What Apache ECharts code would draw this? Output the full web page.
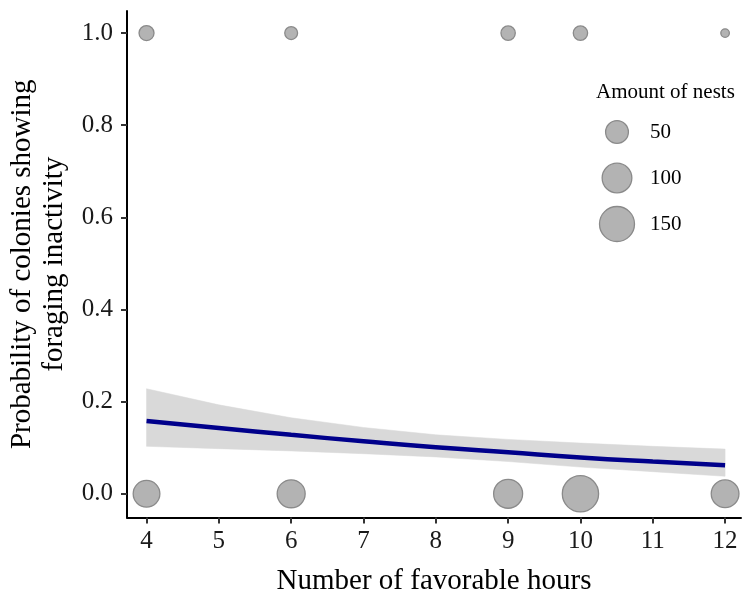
<!DOCTYPE html>
<html>
<head>
<meta charset="utf-8">
<script src="https://cdn.jsdelivr.net/npm/echarts@6/dist/echarts.min.js"></script>
<style>html,body{margin:0;padding:0;background:#fff;}#c{width:743px;height:594px;}</style>
</head>
<body>
<div id="c"></div>
<script>
// ---- data ----
var hours = [4, 6, 9, 10, 12];                 // colony observation x positions
var nestsActive = [76, 86, 94, 164, 84];         // nests at probability 0
var nestsInactive = [14, 8, 12, 12, 1];          // nests at probability 1
var fitX = [4, 5, 6, 7, 8, 9, 10, 11, 12];
var fitY = [0.158, 0.143, 0.128, 0.114, 0.101, 0.090, 0.079, 0.070, 0.062];
var ciUpper = [0.228, 0.193, 0.165, 0.144, 0.128, 0.118, 0.110, 0.103, 0.097];
var ciLower = [0.103, 0.098, 0.093, 0.087, 0.080, 0.070, 0.058, 0.048, 0.038];
var xTicks = [4, 5, 6, 7, 8, 9, 10, 11, 12];
var yTicks = [0, 0.2, 0.4, 0.6, 0.8, 1.0];
var legendValues = [50, 100, 150];

function sizeOf(n) { return 6.2 + 2.35 * Math.sqrt(n); }

var FONT = '"Liberation Serif", "Times New Roman", serif';
var chart = echarts.init(document.getElementById('c'), null, {renderer: 'canvas'});

var pts = [];
hours.forEach(function (h, i) { pts.push([h, 0, nestsActive[i]]); });
hours.forEach(function (h, i) { pts.push([h, 1, nestsInactive[i]]); });

var bandData = fitX.map(function (x, i) { return [x, ciLower[i], ciUpper[i]]; });

chart.setOption({
  animation: false,
  backgroundColor: '#fff',
  title: {
    text: 'Amount of nests', left: 591, top: 77,
    textStyle: {fontFamily: FONT, fontSize: 21, fontWeight: 'normal', color: '#000'}
  },
  grid: [
    {left: 127, right: 2, top: 11, bottom: 76.5, containLabel: false, outerBoundsMode: 'none'},
    {left: 597, width: 40, top: 109, height: 138, containLabel: false, outerBoundsMode: 'none'}
  ],
  xAxis: [{
    type: 'value', min: 3.73, max: 12.22, gridIndex: 0,
    name: 'Number of favorable hours', nameLocation: 'middle', nameGap: 49,
    nameTextStyle: {fontFamily: FONT, fontSize: 29, color: '#000'},
    axisLine: {show: true, onZero: false, lineStyle: {color: '#000', width: 2}},
    axisTick: {show: true, length: 6, lineStyle: {color: '#333', width: 2}, customValues: xTicks},
    axisLabel: {customValues: xTicks, margin: 11, fontFamily: FONT, fontSize: 25, color: '#1a1a1a'},
    splitLine: {show: false}
  }, {
    type: 'value', min: -1, max: 1, gridIndex: 1, show: false
  }],
  yAxis: [{
    type: 'value', min: -0.0515, max: 1.048, gridIndex: 0,
    name: 'Probability of colonies showing\nforaging inactivity', nameLocation: 'middle', nameGap: 47,
    nameTextStyle: {fontFamily: FONT, fontSize: 29, color: '#000', lineHeight: 32},
    axisLine: {show: true, onZero: false, lineStyle: {color: '#000', width: 2}},
    axisTick: {show: true, length: 6, lineStyle: {color: '#333', width: 2}, customValues: yTicks},
    axisLabel: {customValues: yTicks, margin: 14, fontFamily: FONT, fontSize: 25, color: '#1a1a1a',
      formatter: function (v) { return v.toFixed(1); }},
    splitLine: {show: false}
  }, {
    type: 'category', gridIndex: 1, inverse: true, position: 'right',
    data: legendValues.map(String),
    axisLine: {show: false}, axisTick: {show: false}, splitLine: {show: false},
    axisLabel: {margin: 13, fontFamily: FONT, fontSize: 21, color: '#000'}
  }],
  series: [
    {type: 'custom', xAxisIndex: 0, yAxisIndex: 0, silent: true, z: 1,
      encode: {x: 0, y: [1, 2]},
      data: bandData,
      renderItem: function (params, api) {
        if (params.dataIndex !== 0) return null;
        var upper = [], lower = [];
        for (var i = 0; i < bandData.length; i++) upper.push(api.coord([bandData[i][0], bandData[i][2]]));
        for (var j = bandData.length - 1; j >= 0; j--) lower.push(api.coord([bandData[j][0], bandData[j][1]]));
        return {type: 'group', children: [
          {type: 'polygon', shape: {points: upper.concat(lower)}, style: {fill: '#d9d9d9', stroke: '#d9d9d9', lineWidth: 0.5}}
        ]};
      }
    },
    {type: 'line', xAxisIndex: 0, yAxisIndex: 0, symbol: 'none', smooth: true,
      lineStyle: {color: '#00008b', width: 4.5},
      data: fitX.map(function (x, i) { return [x, fitY[i]]; }), z: 3},
    {type: 'scatter', xAxisIndex: 0, yAxisIndex: 0, clip: false,
      symbolSize: function (d) { return sizeOf(d[2]); },
      itemStyle: {color: '#b3b3b3', borderColor: '#8a8a8a', borderWidth: 1.3, opacity: 1},
      data: pts, z: 4},
    {type: 'scatter', xAxisIndex: 1, yAxisIndex: 1, clip: false, silent: true,
      symbolSize: function (d) { return sizeOf(d[2]); },
      itemStyle: {color: '#b3b3b3', borderColor: '#8a8a8a', borderWidth: 1.3, opacity: 1},
      data: legendValues.map(function (v) { return [0, String(v), v]; }), z: 4}
  ]
});
</script>
</body>
</html>
